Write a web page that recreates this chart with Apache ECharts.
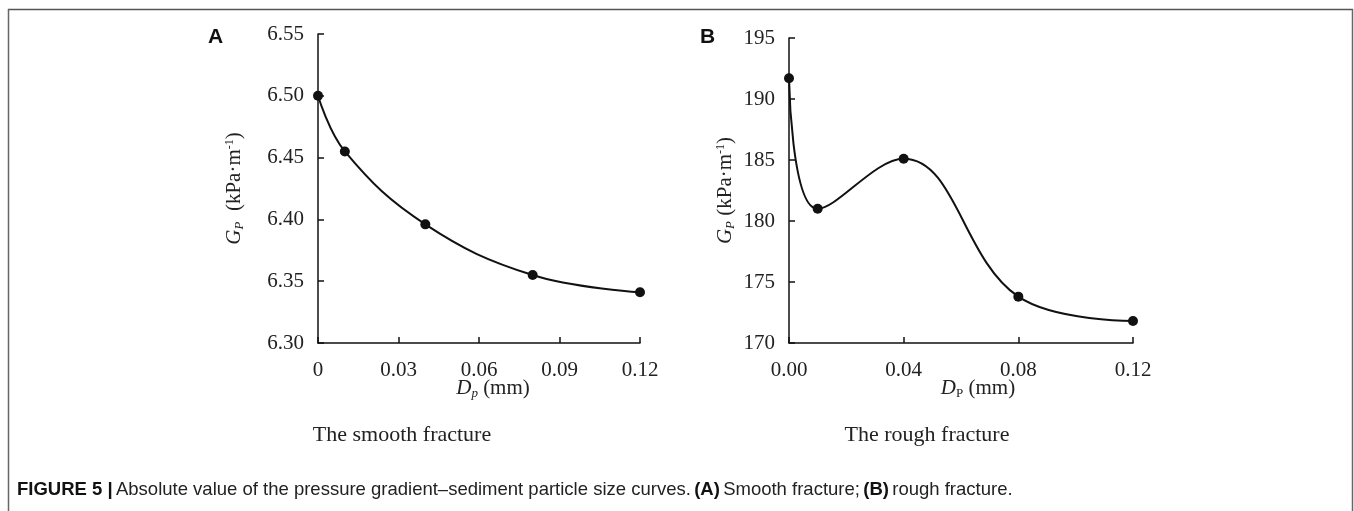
<!DOCTYPE html>
<html>
<head>
<meta charset="utf-8">
<script src="https://cdn.jsdelivr.net/npm/echarts@6/dist/echarts.min.js"></script>
<style>
html,body{margin:0;padding:0;background:#fff;}
#main{width:1354px;height:511px;}
</style>
</head>
<body>
<div id="main"></div>
<script>
// Data
const dpA = [0, 0.01, 0.04, 0.08, 0.12];
const gpA = [6.500, 6.455, 6.396, 6.355, 6.341];
const dpB = [0, 0.01, 0.04, 0.08, 0.12];
const gpB = [191.7, 181.0, 185.1, 173.8, 171.8];
const yTicksA = [6.30, 6.35, 6.40, 6.45, 6.50, 6.55];
const xTicksA = [0, 0.03, 0.06, 0.09, 0.12];
const yTicksB = [170, 175, 180, 185, 190, 195];
const xTicksB = [0.00, 0.04, 0.08, 0.12];
const subtitleA = 'The smooth fracture';
const subtitleB = 'The rough fracture';

const serif = 'Liberation Serif, Times New Roman, serif';
const sans = 'Liberation Sans, Arial, sans-serif';
const black = '#111';

function axisCommon(){
  return {
    axisLine:{show:true,lineStyle:{color:black,width:1.5}},
    axisTick:{show:true,inside:true,length:6,lineStyle:{color:black,width:1.5}},
    splitLine:{show:false},
    axisLabel:{fontFamily:serif,fontSize:21,color:'#222'},
    nameMoveOverlap:false
  };
}

const nameRich = {
  i:{fontFamily:serif,fontStyle:'italic',fontSize:21,color:'#222'},
  r:{fontFamily:serif,fontSize:21,color:'#222'},
  subi:{fontFamily:serif,fontStyle:'italic',fontSize:13,color:'#222',padding:[10,0,0,0]},
  sub:{fontFamily:serif,fontSize:13,color:'#222',padding:[10,0,0,0]},
  sup:{fontFamily:serif,fontSize:12,color:'#222',padding:[0,0,10,0]}
};

const chart = echarts.init(document.getElementById('main'));
const option = {
  backgroundColor:'#fff',
  animation:false,
  grid:[
    {left:318, top:34, width:322, height:309},
    {left:789, top:38, width:344, height:305}
  ],
  xAxis:[
    Object.assign(axisCommon(),{
      type:'value', gridIndex:0, min:xTicksA[0], max:xTicksA[xTicksA.length-1], interval:0.03,
      axisLabel:{fontFamily:serif,fontSize:21,color:'#222',margin:17,
        formatter:v=>{const t=xTicksA.find(x=>Math.abs(x-v)<1e-9);return t===0?'0':String(+v.toFixed(2));}},
      name:'{i|D}{subi|p}{r| (mm)}', nameLocation:'middle', nameGap:34,
      nameTextStyle:{rich:nameRich,padding:[0,0,0,28]}
    }),
    Object.assign(axisCommon(),{
      type:'value', gridIndex:1, min:xTicksB[0], max:xTicksB[xTicksB.length-1], interval:0.04,
      axisLabel:{fontFamily:serif,fontSize:21,color:'#222',margin:17,formatter:v=>v.toFixed(2)},
      name:'{i|D}{sub|P}{r| (mm)}', nameLocation:'middle', nameGap:34,
      nameTextStyle:{rich:nameRich,padding:[0,0,0,34]}
    })
  ],
  yAxis:[
    Object.assign(axisCommon(),{
      type:'value', gridIndex:0, min:yTicksA[0], max:yTicksA[yTicksA.length-1], interval:0.05,
      axisLabel:{fontFamily:serif,fontSize:21,color:'#222',margin:14,formatter:v=>v.toFixed(2)},
      name:'{i|G}{subi|P}{r|  (kPa·m}{sup|-1}{r|)}', nameLocation:'middle', nameGap:72, nameRotate:90,
      nameTextStyle:{rich:nameRich,padding:[0,0,0,0]}
    }),
    Object.assign(axisCommon(),{
      type:'value', gridIndex:1, min:yTicksB[0], max:yTicksB[yTicksB.length-1], interval:5,
      axisLabel:{fontFamily:serif,fontSize:21,color:'#222',margin:14},
      name:'{i|G}{subi|P}{r| (kPa·m}{sup|-1}{r|)}', nameLocation:'middle', nameGap:52, nameRotate:90,
      nameTextStyle:{rich:nameRich}
    })
  ],
  series:[
    {type:'line', xAxisIndex:0, yAxisIndex:0, data:dpA.map((x,i)=>[x,gpA[i]]), smooth:0.4,
      symbol:'circle', symbolSize:10, itemStyle:{color:black}, lineStyle:{color:black,width:2}},
    {type:'line', xAxisIndex:1, yAxisIndex:1, data:dpB.map((x,i)=>[x,gpB[i]]), smooth:0.4,
      symbol:'circle', symbolSize:10, itemStyle:{color:black}, lineStyle:{color:black,width:2}}
  ],
  graphic:[
    {type:'line', shape:{x1:8,y1:9.5,x2:1353,y2:9.5}, style:{stroke:'#555',lineWidth:1.5}},
    {type:'line', shape:{x1:8.5,y1:9,x2:8.5,y2:511}, style:{stroke:'#666',lineWidth:1.5}},
    {type:'line', shape:{x1:1352.5,y1:9,x2:1352.5,y2:511}, style:{stroke:'#666',lineWidth:1.5}},
    {type:'text', left:208, top:27, style:{text:'A', font:'bold 21px '+sans, fill:'#111'}},
    {type:'text', left:700, top:27, style:{text:'B', font:'bold 21px '+sans, fill:'#111'}},
    {type:'text', x:402, y:435, style:{text:subtitleA, font:'22px '+serif, fill:'#222', align:'center', verticalAlign:'middle'}},
    {type:'text', x:927, y:435, style:{text:subtitleB, font:'22px '+serif, fill:'#222', align:'center', verticalAlign:'middle'}},
    {type:'text', x:17, y:490, style:{
      text:'{b|FIGURE 5 |} {n|Absolute value of the pressure gradient–sediment particle size curves.} {b|(A)} {n|Smooth fracture;} {b|(B)} {n|rough fracture.}',
      verticalAlign:'middle',
      rich:{
        b:{fontFamily:sans,fontWeight:'bold',fontSize:18.5,fill:'#111'},
        n:{fontFamily:sans,fontSize:18.5,fill:'#222'}
      }
    }}
  ]
};
chart.setOption(option);
</script>
</body>
</html>
